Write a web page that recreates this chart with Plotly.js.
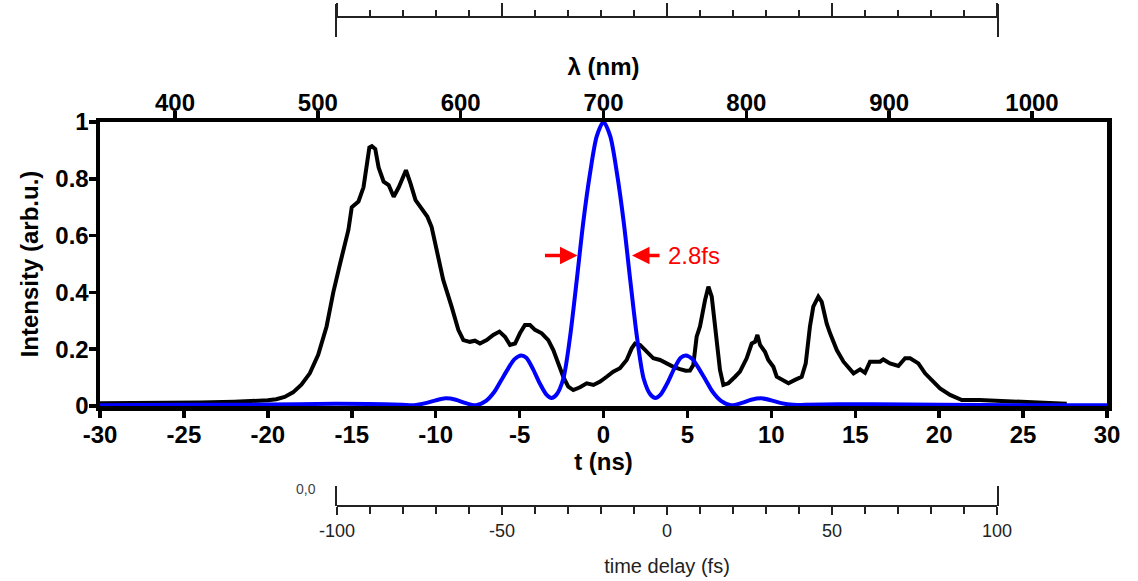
<!DOCTYPE html>
<html>
<head>
<meta charset="utf-8">
<script src="https://cdn.plot.ly/plotly-3.0.1.min.js"></script>
<style>
html,body{margin:0;padding:0;background:#fff;}
#chart{width:1138px;height:581px;}
</style>
</head>
<body>
<div id="chart"></div>
<script>
// ---- data ----
const tSpectrum = [-30, -28, -26, -24, -22, -21, -20, -19.5, -19, -18.5, -18, -17.5, -17, -16.5, -16.1, -15.7, -15.4, -15.2, -15.0, -14.6, -14.3, -14.1, -13.95, -13.8, -13.6, -13.4, -13.1, -12.8, -12.5, -12.2, -12.0, -11.77, -11.5, -11.2, -10.9, -10.7, -10.5, -10.24, -9.94, -9.55, -9.05, -8.65, -8.35, -7.96, -7.66, -7.36, -6.96, -6.57, -6.2, -5.87, -5.57, -5.27, -4.98, -4.68, -4.38, -4.08, -3.68, -3.29, -2.99, -2.69, -2.4, -2.1, -1.8, -1.4, -1.0, -0.6, -0.2, 0.19, 0.58, 0.98, 1.38, 1.68, 1.88, 2.18, 2.57, 2.97, 3.37, 3.76, 4.16, 4.56, 4.9, 5.15, 5.35, 5.55, 5.75, 6.05, 6.25, 6.45, 6.7, 6.94, 7.14, 7.44, 7.84, 8.13, 8.53, 8.83, 9.03, 9.17, 9.33, 9.62, 9.82, 10.12, 10.32, 10.62, 11.02, 11.41, 11.81, 12.05, 12.3, 12.5, 12.8, 13.0, 13.3, 13.5, 13.9, 14.3, 14.9, 15.29, 15.58, 15.88, 16.48, 16.67, 17.07, 17.57, 17.97, 18.27, 18.76, 19.16, 19.56, 20.05, 20.65, 21.35, 22.4, 23.4, 24.6, 25.8, 26.6, 27.6];
const spectrum = [0.010, 0.010, 0.011, 0.012, 0.015, 0.017, 0.020, 0.024, 0.032, 0.048, 0.075, 0.115, 0.18, 0.28, 0.40, 0.50, 0.565, 0.62, 0.70, 0.72, 0.77, 0.86, 0.91, 0.915, 0.905, 0.84, 0.79, 0.778, 0.737, 0.77, 0.796, 0.83, 0.784, 0.725, 0.70, 0.684, 0.667, 0.63, 0.55, 0.444, 0.35, 0.268, 0.232, 0.226, 0.23, 0.22, 0.232, 0.25, 0.262, 0.244, 0.215, 0.22, 0.256, 0.285, 0.285, 0.268, 0.256, 0.232, 0.197, 0.15, 0.103, 0.068, 0.056, 0.066, 0.08, 0.074, 0.086, 0.103, 0.121, 0.133, 0.162, 0.203, 0.22, 0.215, 0.191, 0.168, 0.162, 0.15, 0.138, 0.13, 0.124, 0.125, 0.144, 0.244, 0.28, 0.373, 0.42, 0.385, 0.244, 0.127, 0.074, 0.08, 0.103, 0.121, 0.168, 0.22, 0.226, 0.25, 0.215, 0.191, 0.162, 0.138, 0.103, 0.092, 0.08, 0.092, 0.103, 0.15, 0.28, 0.35, 0.385, 0.367, 0.29, 0.256, 0.197, 0.156, 0.115, 0.129, 0.117, 0.156, 0.156, 0.164, 0.15, 0.141, 0.168, 0.168, 0.15, 0.115, 0.092, 0.062, 0.039, 0.021, 0.021, 0.018, 0.016, 0.011, 0.011, 0.008];

const tPulse = [-30, -25, -20, -16, -14, -12, -11.3, -10.6, -10.0, -9.4, -8.8, -8.2, -7.6, -7.0, -6.5, -6.1, -5.7, -5.3, -4.9, -4.6, -4.2, -3.8, -3.4, -3.1, -2.8, -2.4, -2.0, -1.6, -1.2, -0.8, -0.4, 0, 0.4, 0.8, 1.2, 1.6, 2.0, 2.4, 2.8, 3.1, 3.4, 3.8, 4.2, 4.6, 4.9, 5.3, 5.7, 6.1, 6.5, 7.0, 7.6, 8.2, 8.8, 9.4, 10.0, 10.6, 11.3, 12, 14, 16, 20, 25, 30];
const pulse = [0.003, 0.004, 0.005, 0.008, 0.007, 0.004, 0.003, 0.010, 0.020, 0.027, 0.022, 0.010, 0.003, 0.018, 0.050, 0.090, 0.130, 0.165, 0.178, 0.170, 0.130, 0.080, 0.040, 0.028, 0.040, 0.095, 0.240, 0.440, 0.650, 0.820, 0.950, 1.0, 0.950, 0.820, 0.650, 0.440, 0.240, 0.095, 0.040, 0.028, 0.040, 0.080, 0.130, 0.170, 0.178, 0.165, 0.130, 0.090, 0.050, 0.018, 0.003, 0.010, 0.022, 0.027, 0.020, 0.010, 0.004, 0.004, 0.006, 0.006, 0.004, 0.003, 0.003];

const tTicks = [-30, -25, -20, -15, -10, -5, 0, 5, 10, 15, 20, 25, 30];
const tTickLabels = ['-30', '-25', '-20', '-15', '-10', '-5', '0', '5', '10', '15', '20', '25', '30'];
const lambdaTicks = [400, 500, 600, 700, 800, 900, 1000];
const intensityTicks = [0, 0.2, 0.4, 0.6, 0.8, 1];
const intensityLabels = ['0', '0.2', '0.4', '0.6', '0.8', '1'];
const delayTicks = [-100, -50, 0, 50, 100];
const delayTickLabels = ['-100', '-50', '0', '50', '100'];
const fwhmLabel = '2.8fs';
const fwhmLeft = -1.55, fwhmRight = 1.7, fwhmLevel = 0.53;

// ---- layout geometry (pixels -> paper fractions) ----
const W = 1138, H = 581;
const fx = px => px / W;
const fy = py => 1 - py / H;
const FAM = 'Liberation Sans, Arial, sans-serif';
const bold = {family: FAM, size: 24, color: '#000', weight: 'bold'};

const traces = [
  {x: tSpectrum, y: spectrum, type: 'scatter', mode: 'lines', xaxis: 'x', yaxis: 'y',
   line: {color: '#000000', width: 4}, hoverinfo: 'skip'},
  {x: tPulse, y: pulse, type: 'scatter', mode: 'lines', xaxis: 'x', yaxis: 'y',
   line: {color: '#0000ff', width: 4, shape: 'spline', smoothing: 0.8}, hoverinfo: 'skip'},
  {x: [], y: [], type: 'scatter', mode: 'lines', xaxis: 'x2', yaxis: 'y', hoverinfo: 'skip'},
  {x: [], y: [], type: 'scatter', mode: 'lines', xaxis: 'x3', yaxis: 'y3', hoverinfo: 'skip'},
  {x: [], y: [], type: 'scatter', mode: 'lines', xaxis: 'x4', yaxis: 'y4', hoverinfo: 'skip'}
];

const layout = {
  width: W, height: H,
  margin: {l: 0, r: 0, t: 0, b: 0},
  paper_bgcolor: '#ffffff', plot_bgcolor: 'rgba(0,0,0,0)',
  showlegend: false,
  font: {family: FAM, color: '#000'},
  xaxis: {
    domain: [fx(100), fx(1107)], anchor: 'y', range: [-30, 30],
    tickmode: 'array', tickvals: tTicks, ticktext: tTickLabels,
    ticks: 'outside', ticklen: 7, tickwidth: 3.5, tickcolor: '#000',
    showline: true, linewidth: 4.5, linecolor: '#000',
    showgrid: false, zeroline: false, tickfont: bold, ticklabelstandoff: -3,
    title: {text: 't (ns)', font: bold, standoff: 2}
  },
  xaxis2: {
    overlaying: 'x', side: 'top', anchor: 'y', range: [347.5, 1052.5],
    tickmode: 'array', tickvals: lambdaTicks,
    ticks: 'outside', ticklen: 7, tickwidth: 3.5, tickcolor: '#000',
    showline: true, linewidth: 4.5, linecolor: '#000',
    showgrid: false, zeroline: false, tickfont: bold, ticklabelstandoff: -10,
    title: {text: 'λ (nm)', font: bold, standoff: 8}
  },
  yaxis: {
    domain: [fy(406), fy(122)], anchor: 'x', range: [0, 1],
    tickmode: 'array', tickvals: intensityTicks, ticktext: intensityLabels,
    ticks: 'outside', ticklen: 7, tickwidth: 3.5, tickcolor: '#000',
    showline: true, mirror: true, linewidth: 4.5, linecolor: '#000',
    showgrid: false, zeroline: false, tickfont: bold, ticklabelstandoff: -5,
    title: {text: 'Intensity (arb.u.)', font: bold, standoff: 11}
  },
  xaxis3: {
    domain: [fx(337), fx(997)], anchor: 'free', position: fy(17), side: 'top',
    range: [0, 20], tickmode: 'linear', tick0: 0, dtick: 5,
    ticks: 'outside', ticklen: 13, tickwidth: 2, tickcolor: '#222',
    minor: {dtick: 1, tick0: 0, ticks: 'outside', ticklen: 6, tickwidth: 2, tickcolor: '#222', showgrid: false},
    showticklabels: false, showline: true, linewidth: 2, linecolor: '#222',
    showgrid: false, zeroline: false
  },
  yaxis3: {
    domain: [fy(37), fy(4)], anchor: 'x3', range: [0, 1],
    showline: true, mirror: true, linewidth: 2, linecolor: '#222',
    ticks: '', showticklabels: false, showgrid: false, zeroline: false
  },
  xaxis4: {
    domain: [fx(337), fx(997)], anchor: 'free', position: fy(506), side: 'bottom',
    range: [-100, 100], tickmode: 'array', tickvals: delayTicks, ticktext: delayTickLabels,
    ticks: 'outside', ticklen: 8, tickwidth: 2, tickcolor: '#222',
    minor: {dtick: 10, tick0: 0, ticks: 'outside', ticklen: 7, tickwidth: 2, tickcolor: '#222', showgrid: false},
    showline: true, linewidth: 2, linecolor: '#222',
    showgrid: false, zeroline: false,
    tickfont: {family: FAM, size: 18, color: '#222'},
    title: {text: 'time delay (fs)', font: {family: FAM, size: 20, color: '#222'}, standoff: 18}
  },
  yaxis4: {
    domain: [fy(506), fy(486)], anchor: 'x4', range: [0, 1],
    showline: true, mirror: true, linewidth: 2, linecolor: '#222',
    ticks: '', showticklabels: false, showgrid: false, zeroline: false
  },
  annotations: [
    {xref: 'x', yref: 'y', x: fwhmLeft, y: fwhmLevel, ax: -34, ay: 0, text: '', showarrow: true,
     arrowhead: 2, arrowsize: 1, arrowwidth: 3.5, arrowcolor: '#ff0000', standoff: 0},
    {xref: 'x', yref: 'y', x: fwhmRight, y: fwhmLevel, ax: 29, ay: 0, text: '', showarrow: true,
     arrowhead: 2, arrowsize: 1, arrowwidth: 3.5, arrowcolor: '#ff0000', standoff: 0},
    {xref: 'x', yref: 'y', x: 3.75, y: fwhmLevel, xanchor: 'left', yanchor: 'middle', text: fwhmLabel,
     showarrow: false, font: {family: FAM, size: 24, color: '#ff0000'}},
    {xref: 'paper', yref: 'paper', x: fx(318), y: fy(489), xanchor: 'right', yanchor: 'middle', text: '0,0',
     showarrow: false, font: {family: FAM, size: 14, color: '#444'}}
  ]
};

Plotly.newPlot('chart', traces, layout, {staticPlot: true, displayModeBar: false});
</script>
</body>
</html>
